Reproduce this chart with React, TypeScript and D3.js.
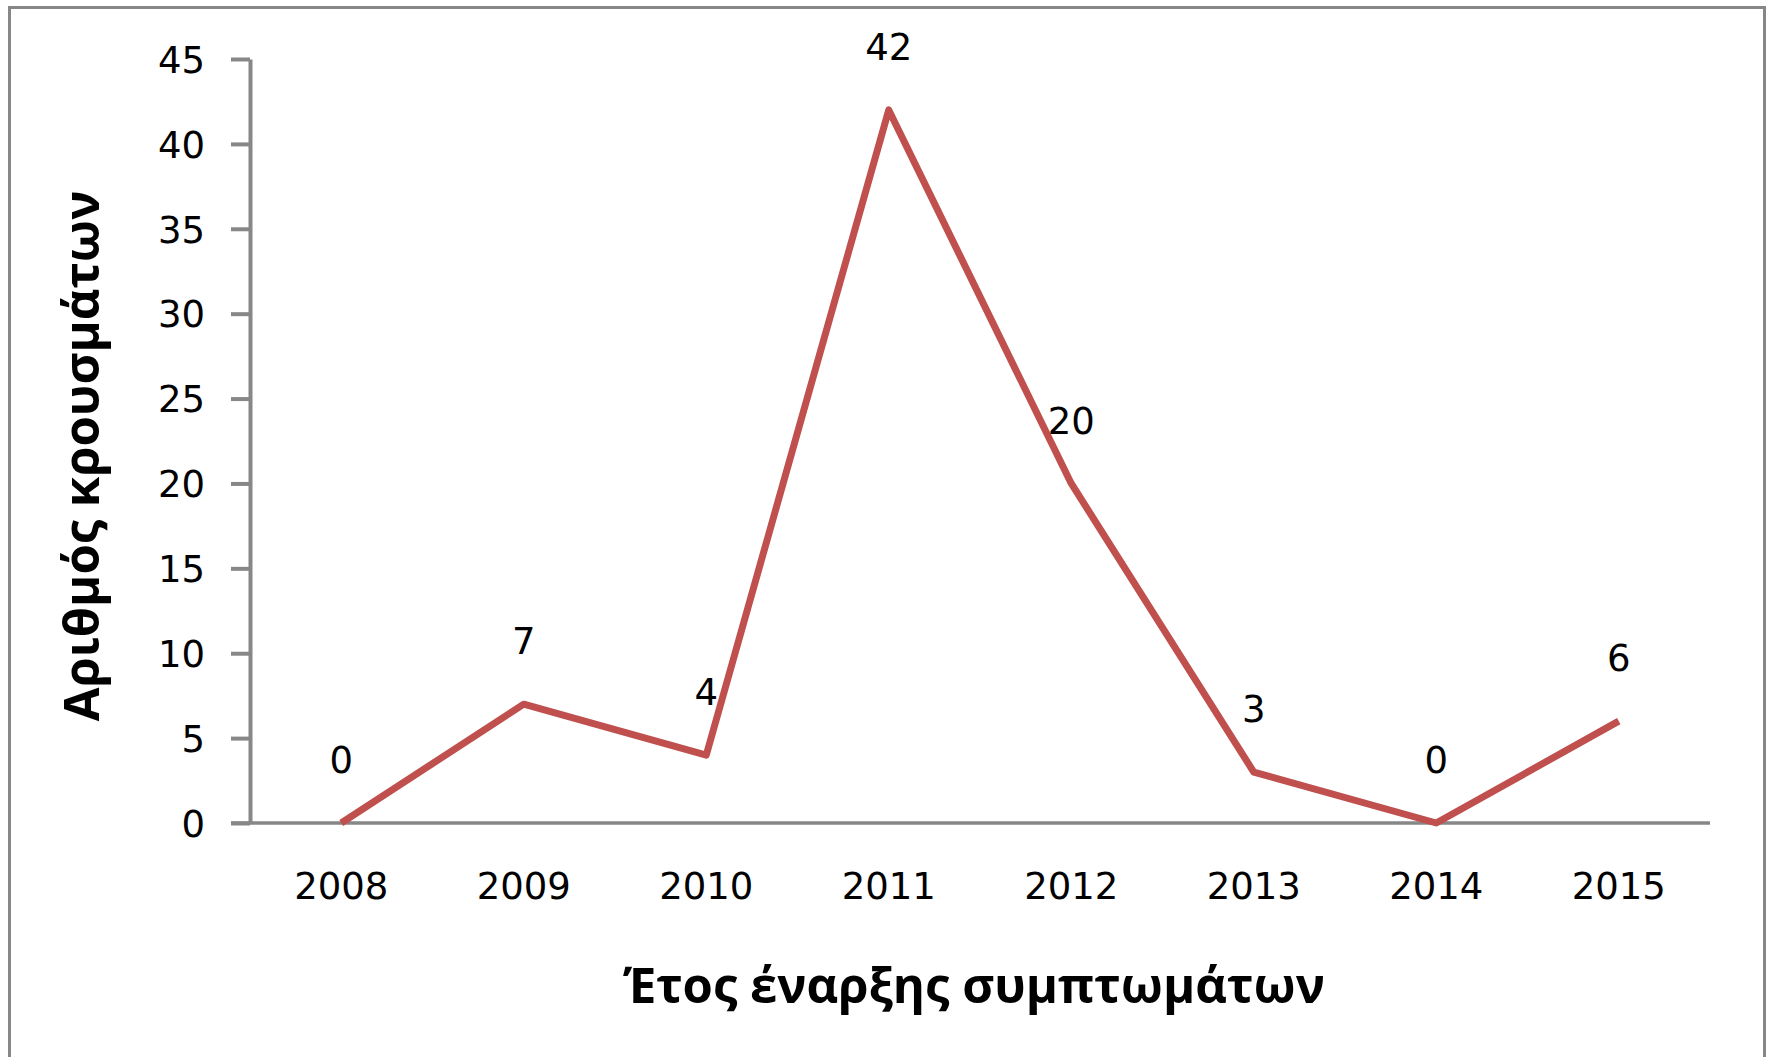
import * as d3 from 'd3';
import { useEffect, useRef } from 'react';

// Symptom onset year and number of cases
const years = ['2008', '2009', '2010', '2011', '2012', '2013', '2014', '2015'];
const cases = [0, 7, 4, 42, 20, 3, 0, 6];
const yTicks = [0, 5, 10, 15, 20, 25, 30, 35, 40, 45];

const xTitle = 'Έτος έναρξης συμπτωμάτων';
const yTitle = 'Αριθμός κρουσμάτων';

export default function App() {
  const svgRef = useRef<SVGSVGElement | null>(null);

  useEffect(() => {
    const svg = d3.select(svgRef.current);
    svg.selectAll('*').remove();

    const width = 1771;
    const height = 1057;
    const plotLeft = 250;
    const plotRight = 1710;
    const plotTop = 59;
    const plotBottom = 823;
    const axisColor = '#878787';
    const tickFont = '"DejaVu Sans", sans-serif';
    const titleFont = '"Open Sans", sans-serif';

    svg.attr('width', width).attr('height', height).attr('viewBox', [0, 0, width, height]);

    svg.append('rect').attr('width', width).attr('height', height).attr('fill', '#fff');

    // outer chart border (top, left, right only — bottom is cropped off)
    svg.append('path')
      .attr('fill', 'none')
      .attr('stroke', axisColor)
      .attr('stroke-width', 3)
      .attr('d', `M9.5,${height}V7.5H1764.5V${height}`);

    const x = d3.scaleBand<string>().domain(years).range([plotLeft, plotRight]);
    const y = d3.scaleLinear().domain([0, 45]).range([plotBottom, plotTop]);
    const cx = (d: string) => (x(d) ?? 0) + x.bandwidth() / 2;

    // y axis
    svg.append('g')
      .attr('transform', `translate(${plotLeft},0)`)
      .call(d3.axisLeft(y).tickValues(yTicks).tickSize(19).tickPadding(26).tickSizeOuter(0))
      .call(g => g.select('.domain').attr('stroke', axisColor).attr('stroke-width', 4))
      .call(g => g.selectAll('.tick line').attr('stroke', axisColor).attr('stroke-width', 4))
      .call(g => g.selectAll('.tick text')
        .attr('fill', '#000')
        .attr('font-family', tickFont)
        .attr('font-size', 37)
        .attr('dy', '0.36em'));

    // x axis (no tick marks)
    svg.append('g')
      .attr('transform', `translate(0,${plotBottom})`)
      .call(d3.axisBottom(x).tickSize(0).tickPadding(63).tickSizeOuter(0))
      .call(g => g.select('.domain').remove())
      .call(g => g.selectAll('.tick text')
        .attr('fill', '#000')
        .attr('font-family', tickFont)
        .attr('font-size', 37)
        .attr('dy', '0.36em'));

    svg.append('line')
      .attr('x1', 231).attr('x2', plotRight)
      .attr('y1', plotBottom).attr('y2', plotBottom)
      .attr('stroke', axisColor)
      .attr('stroke-width', 3.5);

    const data = years.map((yr, i) => ({ year: yr, value: cases[i] }));

    const line = d3.line<{ year: string; value: number }>()
      .x(d => cx(d.year))
      .y(d => y(d.value));

    svg.append('path')
      .attr('fill', 'none')
      .attr('stroke', '#C0504D')
      .attr('stroke-width', 7)
      .attr('stroke-linejoin', 'round')
      .attr('d', line(data));

    // data labels
    svg.append('g')
      .selectAll('text')
      .data(data)
      .join('text')
      .attr('x', d => cx(d.year))
      .attr('y', d => y(d.value) - 63)
      .attr('dy', '0.36em')
      .attr('text-anchor', 'middle')
      .attr('font-family', tickFont)
      .attr('font-size', 37)
      .attr('fill', '#000')
      .text(d => d.value);

    // axis titles
    svg.append('text')
      .attr('x', 974)
      .attr('y', 1003)
      .attr('text-anchor', 'middle')
      .attr('font-family', titleFont)
      .attr('font-weight', 'bold')
      .attr('font-size', 49)
      .attr('fill', '#000')
      .text(xTitle);

    svg.append('text')
      .attr('transform', 'translate(99,456) rotate(-90)')
      .attr('text-anchor', 'middle')
      .attr('font-family', titleFont)
      .attr('font-weight', 'bold')
      .attr('font-size', 49)
      .attr('fill', '#000')
      .text(yTitle);
  }, []);

  return (
    <svg
      ref={svgRef}
      style={{ position: 'absolute', left: 0, top: 0, display: 'block' }}
    />
  );
}
